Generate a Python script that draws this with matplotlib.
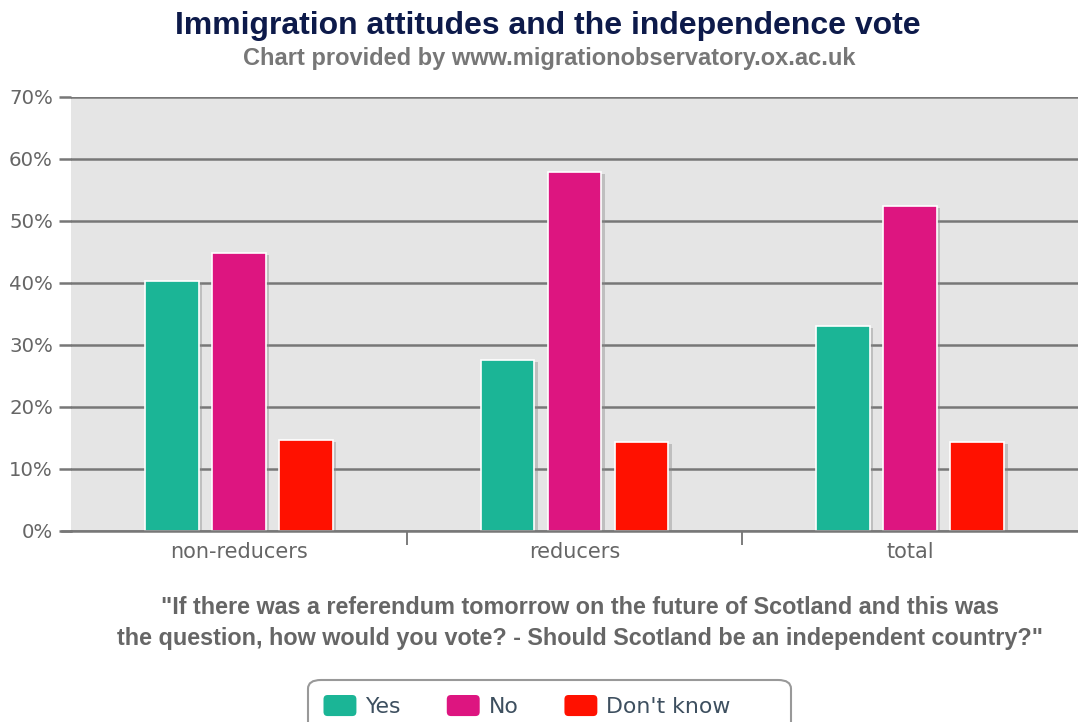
import numpy as np
import matplotlib.pyplot as plt
import matplotlib.patheffects as pe
from matplotlib.patches import Patch, FancyBboxPatch
from matplotlib.legend_handler import HandlerPatch

categories = ["non-reducers", "reducers", "total"]
series_names = ["Yes", "No", "Don't know"]
yes_vals = [40.3, 27.6, 33.1]
no_vals = [44.8, 57.9, 52.4]
dk_vals = [14.7, 14.4, 14.4]
colors = ["#1bb596", "#dd1580", "#ff1100"]
yticks = [0, 10, 20, 30, 40, 50, 60, 70]

fig = plt.figure(figsize=(10.78, 7.22), dpi=100)
ax = fig.add_axes([71 / 1078, 1 - 531 / 722, 1 - 71 / 1078, (531 - 97) / 722])
ax.set_facecolor("#e5e5e5")

x = np.arange(len(categories))
width = 0.16
shadow = [pe.SimplePatchShadow(offset=(2.5, -1.5), shadow_rgbFace="#888888", alpha=0.4), pe.Normal()]
for i, vals in enumerate([yes_vals, no_vals, dk_vals]):
    ax.bar(x + (i - 1) * 0.2, vals, width, color=colors[i], edgecolor="white",
           linewidth=1.2, zorder=3, path_effects=shadow)

ax.set_xlim(-0.5, 2.5)
ax.set_ylim(0, 70)
ax.set_yticks(yticks)
ax.set_yticklabels([f"{t}%" for t in yticks])
ax.grid(axis="y", color="#777777", linewidth=1.8, zorder=1)
ax.tick_params(axis="y", length=9, width=1.8, color="#777777", labelcolor="#666666",
               labelsize=14.2, pad=4)
for lbl in ax.get_yticklabels():
    lbl.set_fontfamily("DejaVu Sans")
for s in ["left", "right", "top"]:
    ax.spines[s].set_visible(False)
ax.spines["bottom"].set_color("#777777")
ax.spines["bottom"].set_linewidth(1.8)
ax.spines["bottom"].set_zorder(4)

ax.set_xticks(x)
ax.set_xticklabels(categories)
ax.set_xticks([0.5, 1.5], minor=True)
ax.tick_params(axis="x", which="major", length=0, labelcolor="#666666", labelsize=15, pad=8)
ax.tick_params(axis="x", which="minor", length=10, width=1.2, color="#666666")
for lbl in ax.get_xticklabels():
    lbl.set_fontfamily("DejaVu Sans")

# the bottom spine also reaches the tick mark on the left
ax.plot([-0.5 - 9 / 335.7, -0.5], [0, 0], color="#777777", lw=1.8, clip_on=False, zorder=4)

fig.text(548 / 1078, 1 - 26 / 722, "Immigration attitudes and the independence vote",
         ha="center", va="center", fontsize=23, fontweight="bold", color="#0d1a4a",
         family="Liberation Sans")
fig.text(549 / 1078, 1 - 59 / 722, "Chart provided by www.migrationobservatory.ox.ac.uk",
         ha="center", va="center", fontsize=17, fontweight="bold", color="#777777",
         family="Liberation Sans")
fig.text(580 / 1078, 1 - 608 / 722,
         "\"If there was a referendum tomorrow on the future of Scotland and this was",
         ha="center", va="center", fontsize=16.8, fontweight="bold", color="#666666",
         family="Liberation Sans")
fig.text(580 / 1078, 1 - 639 / 722,
         "the question, how would you vote? - Should Scotland be an independent country?\"",
         ha="center", va="center", fontsize=16.8, fontweight="bold", color="#666666",
         family="Liberation Sans")


class RoundHandler(HandlerPatch):
    def create_artists(self, legend, orig_handle, xdescent, ydescent, width, height,
                       fontsize, trans):
        p = FancyBboxPatch((-xdescent, -ydescent), width, height,
                           boxstyle="round,pad=0,rounding_size=3",
                           facecolor=orig_handle.get_facecolor(), edgecolor="none",
                           transform=trans)
        return [p]


# legend box (cut by the bottom edge)
box = FancyBboxPatch((308 / 1078, 1 - 760 / 722), 483 / 1078, 80 / 722,
                     boxstyle="round,pad=0,rounding_size=0.012", transform=fig.transFigure,
                     facecolor="white", edgecolor="#999999", linewidth=1.5)
fig.patches.append(box)
handles = [Patch(facecolor=c, edgecolor="none") for c in colors]
leg = fig.legend(handles, series_names, loc="center", ncol=3, frameon=False,
                 bbox_to_anchor=(527 / 1078, 1 - 706 / 722), fontsize=15.8,
                 handlelength=1.5, handleheight=1.1, handletextpad=0.4, columnspacing=2.1,
                 handler_map={Patch: RoundHandler()})
for t in leg.get_texts():
    t.set_color("#3d4f5f")

fig.savefig("out.png", dpi=100)
